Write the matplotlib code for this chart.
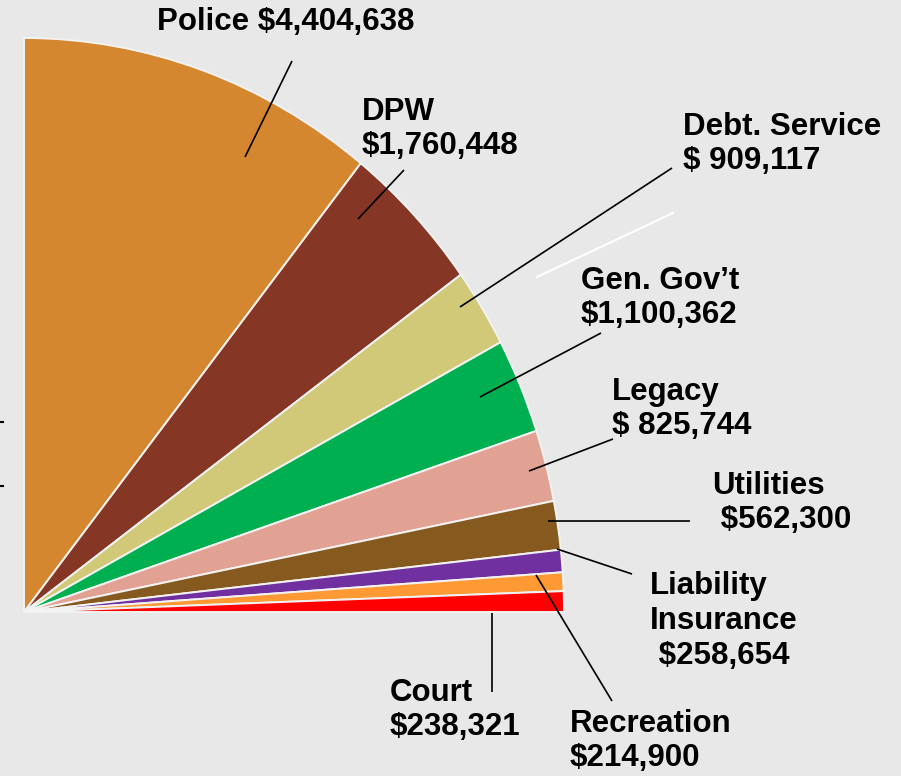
import matplotlib
matplotlib.use("Agg")
import matplotlib.pyplot as plt

# ---- data ----
categories = ["Police", "DPW", "Debt. Service", "Gen. Gov't", "Legacy",
              "Utilities", "Liability Insurance", "Recreation", "Court"]
values = [4404638, 1760448, 909117, 1100362, 825744, 562300, 258654, 214900, 238321]
label_texts = [
    "Police $4,404,638",
    "DPW\n$1,760,448",
    "Debt. Service\n$ 909,117",
    "Gen. Gov\u2019t\n$1,100,362",
    "Legacy\n$ 825,744",
    "Utilities\n $562,300",
    "Liability\nInsurance\n $258,654",
    "Court\n$238,321",
    "Recreation\n$214,900",
]
colors = ["#D5872F", "#863625", "#D1C977", "#00B050", "#E2A293",
          "#865A1F", "#7030A0", "#FF9933", "#FF0000"]

W, H = 901, 776
S = 1.063  # vertical stretch of the drawing
plt.rcParams['font.family'] = ['Liberation Sans', 'DejaVu Sans']

fig = plt.figure(figsize=(W / 100, H / 100), dpi=100)
fig.patch.set_facecolor("#e8e8e8")
ax = fig.add_axes([0, 0, 1, 1])
ax.set_facecolor("#e8e8e8")


def Y(y):
    return (H - y) / S


total = sum(values)
fracs = [v / total * 0.25 for v in values]   # quarter pie
explode = [0, 0, 0.008, 0, 0, 0, 0, 0, 0]
ax.pie(fracs, startangle=90, counterclock=False, normalize=False,
       center=(24, Y(612)), radius=540, colors=colors, explode=explode,
       wedgeprops=dict(edgecolor="#f2f2f2", linewidth=1.4))
ax.set_xlim(0, W)
ax.set_ylim(0, H / S)
ax.set_aspect("auto")
ax.axis("off")

fs = 22.5
txt_pos = [
    (157, 22),
    (362, 129),
    (683, 144),
    (581, 298),
    (612, 409),
    (712, 503),
    (650, 621),
    (390, 710),
    (570, 741),
]
for t, (x, y) in zip(label_texts, txt_pos):
    ax.text(x, Y(y), t, fontsize=fs, fontweight="bold", ha="left", va="center",
            linespacing=1.2, color="black")

# leader lines (pixel coordinates of the picture)
leaders = [
    ((245, 157), (292, 61)),
    ((358, 219), (404, 170)),
    ((460, 307), (672, 168)),
    ((480, 397), (601, 333)),
    ((529, 471), (613, 439)),
    ((548, 521), (690, 521)),
    ((557, 549), (632, 574)),
    ((536, 575), (612, 701)),
    ((492, 613), (492, 692)),
]
for (x1, y1), (x2, y2) in leaders:
    ax.plot([x1, x2], [Y(y1), Y(y2)], color="black", lw=1.2, solid_capstyle="butt")

# stray white line
ax.plot([537, 673], [Y(277), Y(213)], color="white", lw=1.5)
# small marks at left edge
for yy in (422, 486):
    ax.plot([0, 3], [Y(yy), Y(yy)], color="black", lw=1.5)

fig.savefig("out.png", dpi=100, facecolor=fig.get_facecolor())
